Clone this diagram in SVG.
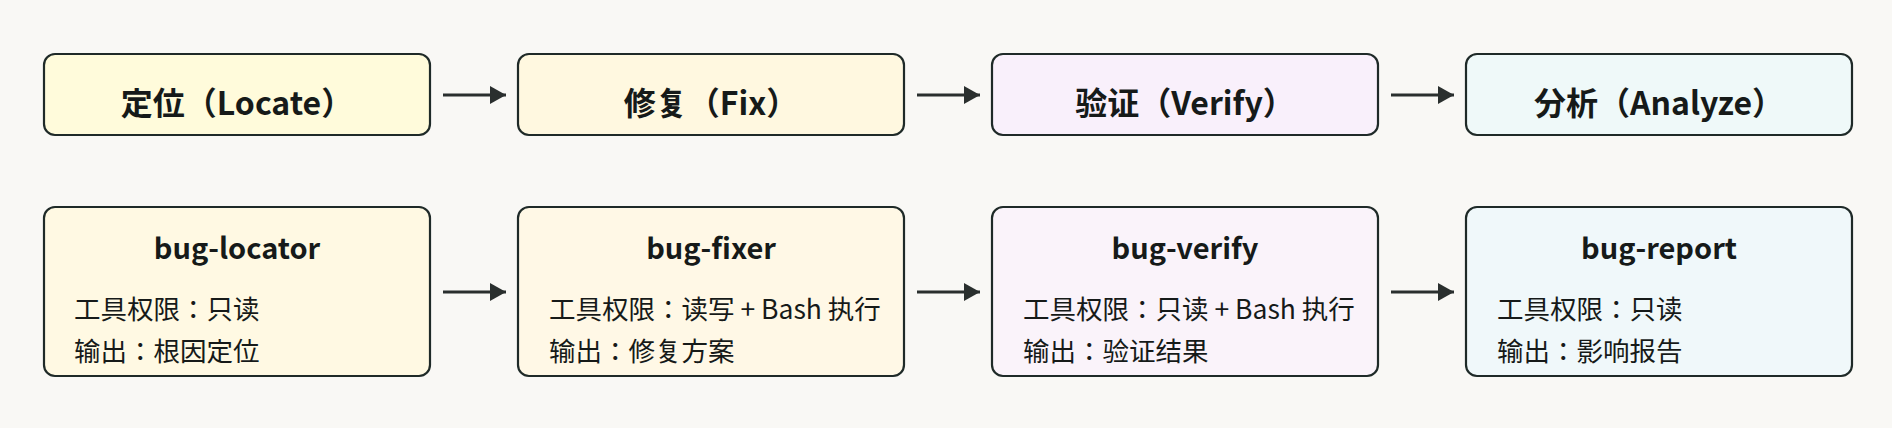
<svg xmlns="http://www.w3.org/2000/svg" width="1892" height="428" viewBox="0 0 1892 428">
<defs>
<style>
.box{stroke:#1f2a28;stroke-width:2.2}
.t{font-family:"Noto Sans CJK JP","Noto Sans CJK SC","Noto Sans",sans-serif;fill:#161a19;font-weight:700;text-anchor:middle}
.top{font-size:32px}
.sub{font-size:29px}
.b{font-family:"Noto Sans CJK JP","Noto Sans CJK SC","Noto Sans",sans-serif;fill:#161a19;font-size:26.5px}
.c{stroke:#2a2f2e;stroke-width:3.2;fill:none}
</style>
<marker id="ah" markerUnits="userSpaceOnUse" markerWidth="18" markerHeight="20" refX="16" refY="9" orient="auto">
<path d="M0,0 L16,9 L0,18 Z" fill="#2a2f2e"/>
</marker>
</defs>
<rect width="1892" height="428" fill="#f9f8f5"/>
<g id="n-locate"><rect class="box" x="44" y="54" width="386" height="81" rx="11" fill="#fffbdb"/><text class="t top" x="237" y="115">定位（Locate）</text></g>
<g id="n-fix"><rect class="box" x="518" y="54" width="386" height="81" rx="11" fill="#fff8e0"/><text class="t top" x="711" y="115">修复（Fix）</text></g>
<g id="n-verify"><rect class="box" x="992" y="54" width="386" height="81" rx="11" fill="#f9f0fb"/><text class="t top" x="1185" y="115">验证（Verify）</text></g>
<g id="n-analyze"><rect class="box" x="1466" y="54" width="386" height="81" rx="11" fill="#eff9f9"/><text class="t top" x="1659" y="115">分析（Analyze）</text></g>
<g id="n-bug-locator"><rect class="box" x="44" y="207" width="386" height="169" rx="11" fill="#fff9e3"/><text class="t sub" x="237" y="259">bug-locator</text><text class="b" x="74" y="319">工具权限：只读</text><text class="b" x="74" y="361">输出：根因定位</text></g>
<g id="n-bug-fixer"><rect class="box" x="518" y="207" width="386" height="169" rx="11" fill="#fff8e6"/><text class="t sub" x="711" y="259">bug-fixer</text><text class="b" x="549" y="319">工具权限：读写 + Bash 执行</text><text class="b" x="549" y="361">输出：修复方案</text></g>
<g id="n-bug-verify"><rect class="box" x="992" y="207" width="386" height="169" rx="11" fill="#faf3fa"/><text class="t sub" x="1185" y="259">bug-verify</text><text class="b" x="1023" y="319">工具权限：只读 + Bash 执行</text><text class="b" x="1023" y="361">输出：验证结果</text></g>
<g id="n-bug-report"><rect class="box" x="1466" y="207" width="386" height="169" rx="11" fill="#f0f8fa"/><text class="t sub" x="1659" y="259">bug-report</text><text class="b" x="1497" y="319">工具权限：只读</text><text class="b" x="1497" y="361">输出：影响报告</text></g>
<g id="connectors">
<path class="c" d="M443,95 H506" marker-end="url(#ah)"/>
<path class="c" d="M917,95 H980" marker-end="url(#ah)"/>
<path class="c" d="M1391,95 H1454" marker-end="url(#ah)"/>
<path class="c" d="M443,292 H506" marker-end="url(#ah)"/>
<path class="c" d="M917,292 H980" marker-end="url(#ah)"/>
<path class="c" d="M1391,292 H1454" marker-end="url(#ah)"/>
</g>
</svg>
